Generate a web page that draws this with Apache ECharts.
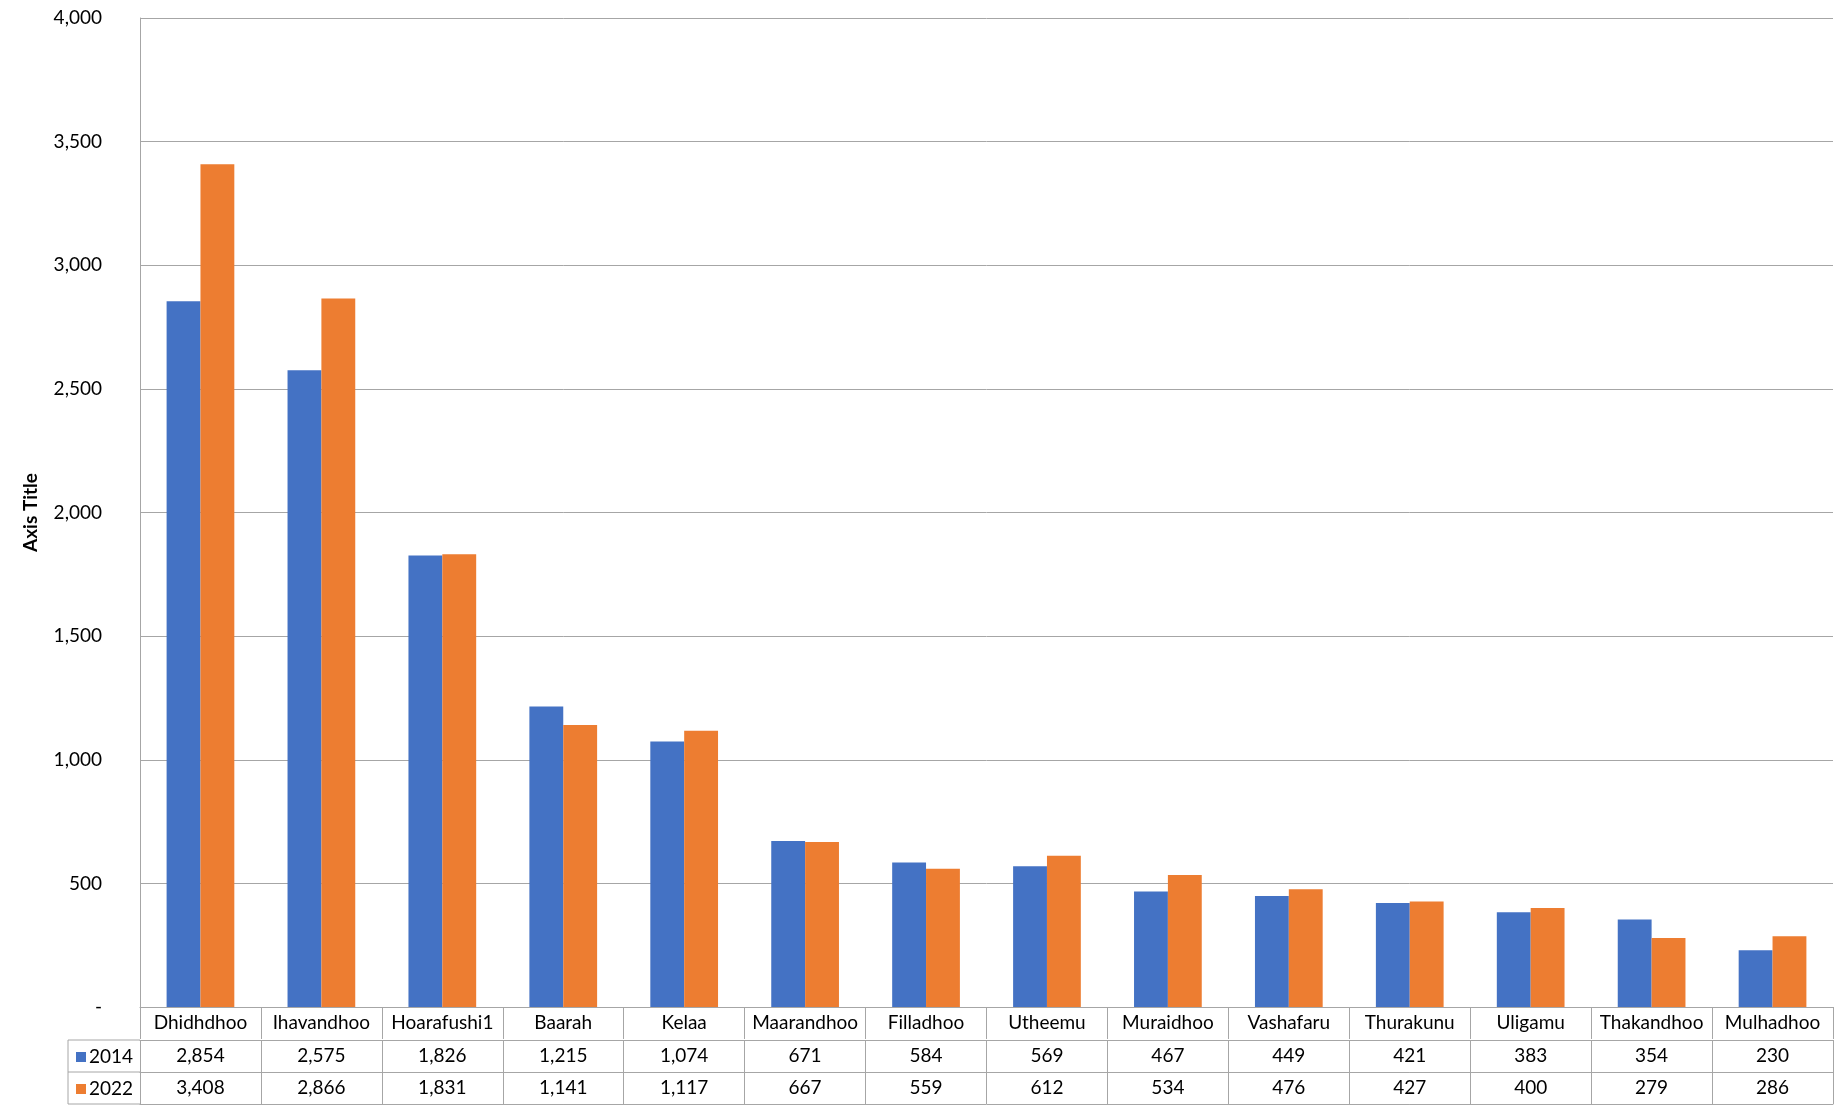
<!DOCTYPE html>
<html><head><meta charset="utf-8">
<script src="https://cdn.jsdelivr.net/npm/echarts@6/dist/echarts.min.js"></script>
<style>html,body{margin:0;padding:0;background:#fff}#c{width:1842px;height:1113px}</style>
</head><body><div id="c"></div>
<script>
const categories = ['Dhidhdhoo','Ihavandhoo','Hoarafushi1','Baarah','Kelaa','Maarandhoo','Filladhoo','Utheemu','Muraidhoo','Vashafaru','Thurakunu','Uligamu','Thakandhoo','Mulhadhoo'];
const series2014 = [2854,2575,1826,1215,1074,671,584,569,467,449,421,383,354,230];
const series2022 = [3408,2866,1831,1141,1117,667,559,612,534,476,427,400,279,286];
const seriesNames = ['2014','2022'];
const yTicks = {min:0, max:4000, interval:500};

const FONT = 'Lato';
const GRAY = '#a6a6a6';
const fmt = v => v.toLocaleString('en-US');
const chart = echarts.init(document.getElementById('c'));

function tableAxis(offset, formatter, showLabel) {
  return {
    type:'category', data:categories, position:'bottom', gridIndex:0, offset:offset,
    axisLine:{show:true, lineStyle:{color:GRAY, width:1}},
    axisTick:{show:showLabel, length:32, interval:0, lineStyle:{color:GRAY, width:1}},
    axisLabel:{show:showLabel, interval:0, margin:6, fontFamily:FONT, fontSize:19, color:'#000', formatter:formatter},
    splitLine:{show:false}
  };
}

chart.setOption({
  animation:false,
  color:['#4472C4','#ED7D31'],
  grid:{left:140, right:9, top:18, bottom:106, containLabel:false},
  legend:{
    orient:'vertical', left:71, top:1042, itemWidth:10, itemHeight:10, itemGap:12,
    icon:'rect', data:seriesNames,
    textStyle:{fontFamily:FONT, fontSize:19, color:'#000', lineHeight:20, padding:[0,0,0,-2]}
  },
  xAxis:[
    tableAxis(0, v => v, true),
    tableAxis(33, (v,i) => fmt(series2014[i]), true),
    tableAxis(65, (v,i) => fmt(series2022[i]), true),
    tableAxis(97, v => '', false)
  ],
  yAxis:{
    type:'value', min:yTicks.min, max:yTicks.max, interval:yTicks.interval,
    name:'Axis Title', nameLocation:'middle', nameGap:100, nameRotate:90,
    nameTextStyle:{fontFamily:FONT, fontSize:19, fontWeight:'bold', color:'#000'},
    axisLine:{show:true, lineStyle:{color:GRAY}},
    axisTick:{show:false},
    axisLabel:{margin:38, fontFamily:FONT, fontSize:19, color:'#000',
      formatter: v => v === 0 ? '-' : fmt(v)},
    splitLine:{show:true, lineStyle:{color:GRAY, width:1}}
  },
  series:[
    {name:seriesNames[0], type:'bar', xAxisIndex:0, data:series2014, barGap:'0%', barCategoryGap:'44%'},
    {name:seriesNames[1], type:'bar', xAxisIndex:0, data:series2022, barGap:'0%', barCategoryGap:'44%'}
  ],
  graphic:[
    {type:'line', shape:{x1:68, y1:1040, x2:140, y2:1040}, style:{stroke:GRAY, lineWidth:1}},
    {type:'line', shape:{x1:68, y1:1072, x2:140, y2:1072}, style:{stroke:GRAY, lineWidth:1}},
    {type:'line', shape:{x1:68, y1:1104, x2:140, y2:1104}, style:{stroke:GRAY, lineWidth:1}},
    {type:'line', shape:{x1:68, y1:1040, x2:68, y2:1104}, style:{stroke:GRAY, lineWidth:1}}
  ]
});
</script></body></html>
